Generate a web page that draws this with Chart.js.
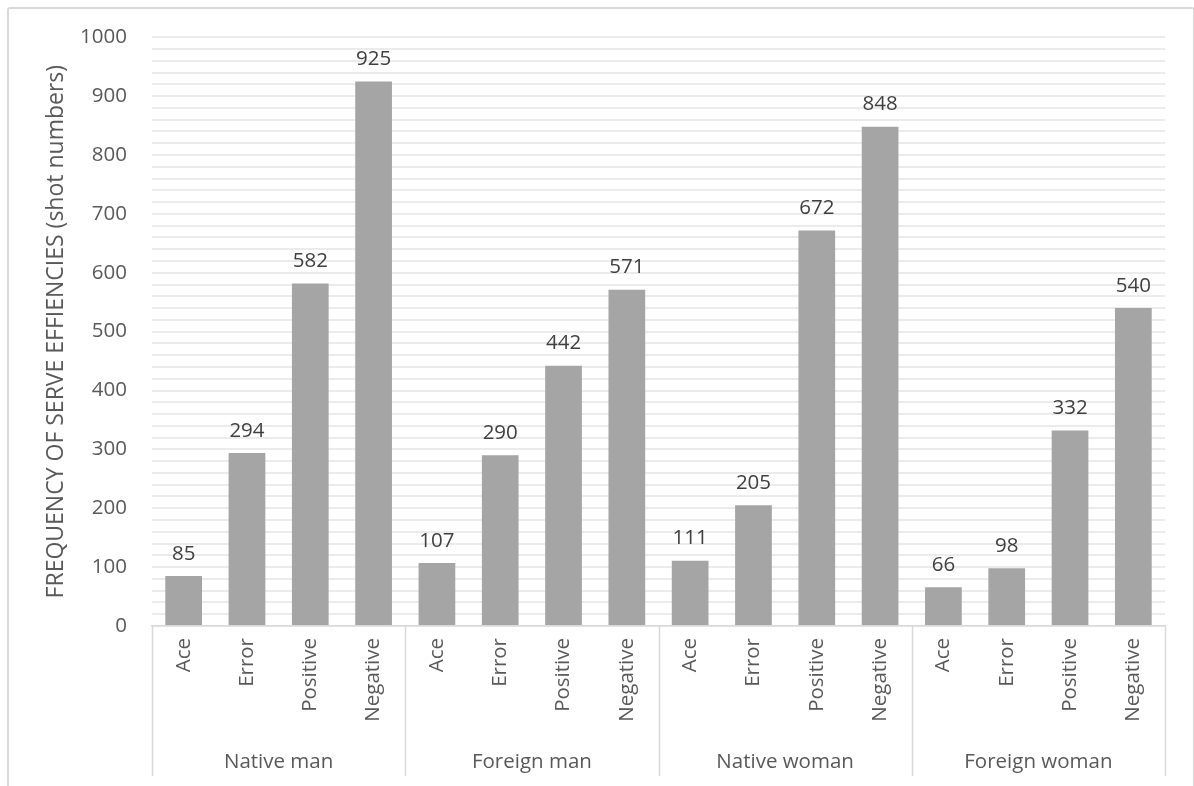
<!DOCTYPE html>
<html>
<head>
<meta charset="utf-8">
<script src="https://cdn.jsdelivr.net/npm/chart.js@4.4.1/dist/chart.umd.min.js"></script>
<style>
    html, body { margin: 0; padding: 0; background: #fff; overflow: hidden; }
    #wrap { position: relative; width: 1194px; height: 786px; }
    #frame { position: absolute; left: 7px; top: 7px; width: 1184px; height: 800px; border: 2px solid #d9d9d9; border-radius: 3px; }
    canvas { position: absolute; left: 0; top: 0; }
</style>
</head>
<body>
<div id="wrap">
    <div id="frame"></div>
    <canvas id="chart" width="1194" height="786"></canvas>
</div>
<script>
// Data
const groups = ["Native man", "Foreign man", "Native woman", "Foreign woman"];
const shotTypes = ["Ace", "Error", "Positive", "Negative"];
const nativeMan = [85, 294, 582, 925];
const foreignMan = [107, 290, 442, 571];
const nativeWoman = [111, 205, 672, 848];
const foreignWoman = [66, 98, 332, 540];
const yTicks = [0, 100, 200, 300, 400, 500, 600, 700, 800, 900, 1000];

const textColor = "#595959";
const fontFamily = "'Open Sans', sans-serif";
const fontSize = 20.5;

let labels = [],
    values = [];
[nativeMan, foreignMan, nativeWoman, foreignWoman].forEach((arr) => {
    shotTypes.forEach((t, i) => {
        labels.push(t);
        values.push(arr[i]);
    });
});

// value labels above bars + group separators below the axis
const barExtras = {
    id: "barExtras",
    afterDatasetsDraw(chart) {
        const ctx = chart.ctx;
        const meta = chart.getDatasetMeta(0);
        ctx.save();
        ctx.font = fontSize + "px " + fontFamily;
        ctx.fillStyle = "#404040";
        ctx.textAlign = "center";
        ctx.textBaseline = "bottom";
        meta.data.forEach((bar, i) => {
            ctx.fillText(values[i], bar.x, bar.y - 12);
        });
        // separators
        const x = chart.scales.x;
        const step = (x.right - x.left) / labels.length;
        ctx.strokeStyle = "#d9d9d9";
        ctx.lineWidth = 1.5;
        for (let g = 0; g <= groups.length; g++) {
            let px = Math.round(x.left + g * shotTypes.length * step) + 0.5;
            ctx.beginPath();
            ctx.moveTo(px, chart.chartArea.bottom);
            ctx.lineTo(px, 776);
            ctx.stroke();
        }
        ctx.restore();
    }
};

new Chart(document.getElementById("chart"), {
    type: "bar",
    data: {
        labels: labels,
        datasets: [{
            data: values,
            backgroundColor: "#a5a5a5",
            categoryPercentage: 1,
            barPercentage: 0.58
        }]
    },
    options: {
        responsive: false,
        animation: false,
        layout: { padding: { top: 24, right: 29, left: 43, bottom: 0 } },
        plugins: {
            legend: { display: false },
            tooltip: { enabled: false }
        },
        scales: {
            x: {
                afterFit: (scale) => { scale.height = 112; },
                grid: { display: false, drawTicks: false },
                border: { color: "#d9d9d9", width: 1.5 },
                ticks: {
                    color: textColor,
                    font: { family: fontFamily, size: fontSize },
                    maxRotation: 90,
                    minRotation: 90,
                    padding: 12,
                    autoSkip: false
                }
            },
            x2: {
                type: "category",
                labels: groups,
                position: "bottom",
                offset: true,
                afterFit: (scale) => { scale.height = 48; },
                grid: { display: false, drawTicks: false },
                border: { display: false },
                ticks: {
                    color: textColor,
                    font: { family: fontFamily, size: fontSize },
                    maxRotation: 0,
                    padding: 12
                }
            },
            y: {
                min: 0,
                max: 1000,
                afterFit: (scale) => { scale.width = 109; },
                afterBuildTicks: (scale) => {
                    let t = [];
                    for (let v = 0; v <= 1000; v += 20)
                        t.push({ value: v });
                    scale.ticks = t;
                },
                grid: { color: "#ebebeb", lineWidth: 2, drawTicks: false },
                border: { display: false },
                ticks: {
                    color: textColor,
                    font: { family: fontFamily, size: fontSize },
                    padding: 25,
                    autoSkip: false,
                    callback: (v) => yTicks.includes(v) ? v : ""
                },
                title: {
                    display: true,
                    text: "FREQUENCY OF SERVE EFFIENCIES (shot numbers)",
                    color: textColor,
                    font: { family: fontFamily, size: 23 },
                    padding: { top: 0, bottom: 0 }
                }
            }
        }
    },
    plugins: [barExtras]
});
</script>
</body>
</html>
